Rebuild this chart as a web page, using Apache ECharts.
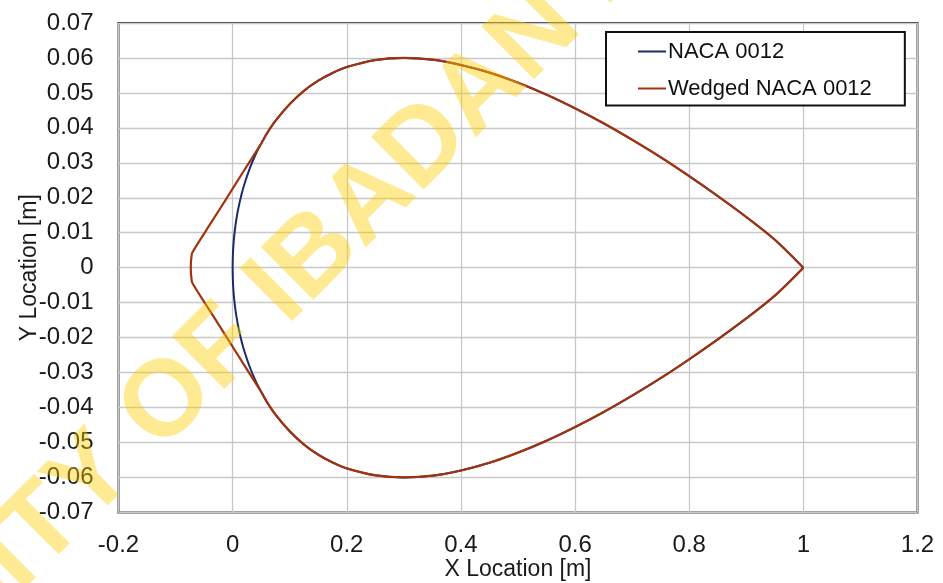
<!DOCTYPE html>
<html><head><meta charset="utf-8">
<script src="https://cdn.jsdelivr.net/npm/echarts@6/dist/echarts.min.js"></script>
<style>html,body{margin:0;padding:0;background:#fff}#c{width:943px;height:583px}</style>
</head><body><div id="c"></div>
<script>
// NACA 0012 upper surface (leading edge -> trailing edge)
const nacaX = [0, 0.0005, 0.001, 0.0025, 0.005, 0.0075, 0.01, 0.015, 0.02, 0.03, 0.04, 0.05, 0.06, 0.075, 0.1, 0.125, 0.15, 0.175, 0.2, 0.25, 0.3, 0.35, 0.4, 0.45, 0.5, 0.55, 0.6, 0.65, 0.7, 0.75, 0.8, 0.85, 0.9, 0.95, 1.0];
const nacaY = [0, 0.0039, 0.0056, 0.0087, 0.0122, 0.0148, 0.0170, 0.0206, 0.0236, 0.0284, 0.0323, 0.0355, 0.0384, 0.0420, 0.0468, 0.0506, 0.0535, 0.0557, 0.0574, 0.0594, 0.0600, 0.0595, 0.0580, 0.0558, 0.0529, 0.0495, 0.0456, 0.0413, 0.0366, 0.0316, 0.0262, 0.0205, 0.0145, 0.0080, 0];
// Wedged nose (upper half, tip -> straight flank), joins NACA surface at x = 0.05
const wedgeNoseX = [-0.0733, -0.0731, -0.0722, -0.0708, -0.04, -0.01, 0.02];
const wedgeNoseY = [0, 0.0015, 0.0030, 0.0043, 0.0123, 0.0200, 0.0278];
const wedgeJoinX = 0.05;

const seriesNames = ['NACA 0012', 'Wedged NACA 0012'];
const seriesColors = ['#1b2a6b', '#a2330f'];

function mirrorLoop(upper) {
  const top = upper.slice().reverse();
  const bottom = upper.slice(1).map(p => [p[0], -p[1]]);
  return top.concat(bottom);
}
const nacaUpper = nacaX.map((x, i) => [x, nacaY[i]]);
const wedgeUpper = wedgeNoseX.map((x, i) => [x, wedgeNoseY[i]]).concat(nacaUpper.filter(p => p[0] >= wedgeJoinX));
const nacaLoop = mirrorLoop(nacaUpper);
const wedgeLoop = mirrorLoop(wedgeUpper);

const fmt = v => String(parseFloat(v.toFixed(2)));
const sans = '"Liberation Sans", Arial, sans-serif';

const chart = echarts.init(document.getElementById('c'), null, {renderer: 'canvas'});
chart.setOption({
  animation: false,
  backgroundColor: '#fff',
  grid: {left: 118.5, right: 25.5, top: 23, bottom: 70.6, outerBoundsMode: 'none', containLabel: false,
         show: true, borderColor: '#333', borderWidth: 2, backgroundColor: 'transparent'},
  xAxis: {
    type: 'value', min: -0.2, max: 1.2, interval: 0.2,
    name: 'X Location [m]', nameLocation: 'middle', nameGap: 46, nameMoveOverlap: false,
    nameTextStyle: {fontFamily: sans, fontSize: 23, color: '#1a1a1a'},
    axisLine: {show: false}, axisTick: {show: false},
    axisLabel: {formatter: fmt, fontFamily: sans, fontSize: 24, color: '#1a1a1a', margin: 21},
    splitLine: {show: true, lineStyle: {color: '#c8c8c8', width: 1.3}}
  },
  yAxis: {
    type: 'value', min: -0.07, max: 0.07, interval: 0.01,
    name: 'Y Location [m]', nameLocation: 'middle', nameGap: 77, nameMoveOverlap: false,
    nameTextStyle: {fontFamily: sans, fontSize: 23, color: '#1a1a1a'},
    axisLine: {show: false}, axisTick: {show: false},
    axisLabel: {formatter: fmt, fontFamily: sans, fontSize: 24, color: '#1a1a1a', margin: 25},
    splitLine: {show: true, lineStyle: {color: '#c8c8c8', width: 1.3}}
  },
  legend: {
    left: 606, top: 32, orient: 'vertical',
    data: seriesNames.map(n => ({name: n, icon: 'rect'})),
    itemWidth: 28, itemHeight: 2, itemGap: 13,
    padding: [7.5, 33, 5, 32],
    backgroundColor: '#fff', borderColor: '#111', borderWidth: 2,
    textStyle: {fontFamily: sans, fontSize: 22, color: '#111', lineHeight: 24, padding: [0, 0, 0, -3]}
  },
  series: [
    {name: seriesNames[0], type: 'line', data: nacaLoop, symbol: 'none', showSymbol: false, smooth: 0.3,
     lineStyle: {color: seriesColors[0], width: 2}, itemStyle: {color: seriesColors[0]}, z: 2},
    {name: seriesNames[1], type: 'line', data: wedgeLoop, symbol: 'none', showSymbol: false, smooth: 0.3,
     lineStyle: {color: seriesColors[1], width: 2.2}, itemStyle: {color: seriesColors[1]}, z: 3}
  ],
  graphic: [{
    type: 'text', x: 290, y: 281, rotation: Math.PI / 4, z: 100, silent: true,
    style: {text: 'UNIVERSITY OF IBADAN LIBRARY', font: 'bold 108px "Liberation Sans", Arial, sans-serif',
            fill: 'rgba(255,204,0,0.42)', align: 'center', verticalAlign: 'middle'}
  }]
});
</script></body></html>
